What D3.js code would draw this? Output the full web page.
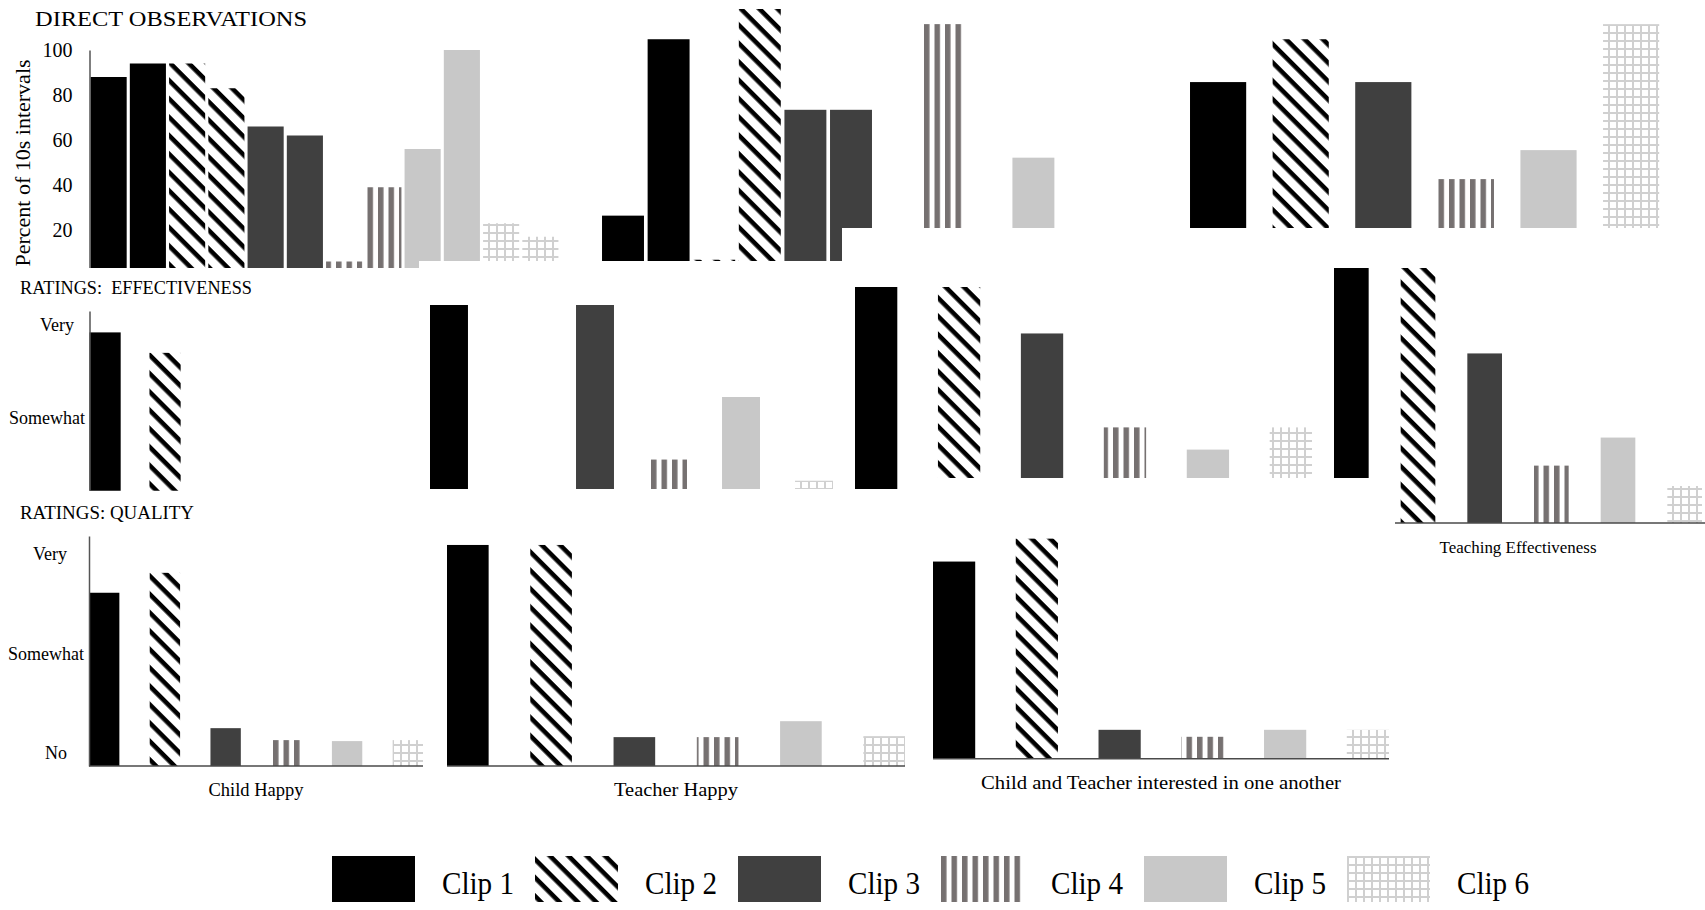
<!DOCTYPE html>
<html>
<head>
<meta charset="utf-8">
<script src="https://cdn.jsdelivr.net/npm/d3@7"></script>
<style>
  body { margin: 0; background: #fff; }
  svg text { font-family: "Liberation Serif", "Times New Roman", serif; fill: #000; }
</style>
</head>
<body>
<svg id="chart" width="1705" height="910"></svg>
<script>
// ---- data ----
const clips = ["Clip 1", "Clip 2", "Clip 3", "Clip 4", "Clip 5", "Clip 6"];
// direct observation panels show two sessions per clip
const obsSlots = ["Clip 1","Clip 1","Clip 2","Clip 2","Clip 3","Clip 3","Clip 4","Clip 4","Clip 5","Clip 5","Clip 6","Clip 6"];
const obsPanel1 = [88, 94, 94, 83, 66, 62, 6, 39, 56, 100, 23, 17];
const obsPanel2 = [18, 88, 0.5, 100, 60, 60, 0, 94, 0, 41, 0, 0];
const obsPanel3 = [71, 88, 71, 32.5, 44, 94];
const obsTicks = [20, 40, 60, 80, 100];

// ratings: 0 = No, 1 = Somewhat, 2 = Very
const ratingLabels = ["No", "Somewhat", "Very"];
const effChildHappy   = [1.92, 1.70, null, null, null, null];
const effTeacherHappy = [2.0, null, 2.0, 0.32, 1.0, 0.09];
const effInterested   = [2.0, 2.0, 1.54, 0.61, 0.39, 0.61];
const effTeaching     = [2.0, 2.0, 1.33, 0.45, 0.67, 0.29];
const qualChildHappy   = [1.61, 1.81, 0.25, 0.13, 0.12, 0.13];
const qualTeacherHappy = [2.09, 2.09, 0.16, 0.16, 0.32, 0.17];
const qualInterested   = [1.85, 2.08, 0.16, 0.09, 0.16, 0.16];

const panelNames = ["Child Happy", "Teacher Happy", "Child and Teacher interested in one another", "Teaching Effectiveness"];

// ---- setup ----
const svg = d3.select("#chart");
const defs = svg.append("defs");

const hatch = defs.append("pattern").attr("id", "hatch").attr("patternUnits", "userSpaceOnUse")
  .attr("width", 13).attr("height", 13).attr("patternTransform", "rotate(45)");
hatch.append("rect").attr("width", 13).attr("height", 13).attr("fill", "#fff");
hatch.append("rect").attr("width", 13).attr("height", 4.6).attr("fill", "#000");

const vstripe = defs.append("pattern").attr("id", "vstripe").attr("patternUnits", "userSpaceOnUse")
  .attr("width", 10.5).attr("height", 10);
vstripe.append("rect").attr("width", 10.5).attr("height", 10).attr("fill", "#fff");
vstripe.append("rect").attr("width", 5.5).attr("height", 10).attr("fill", "#767171");

const grid = defs.append("pattern").attr("id", "grid").attr("patternUnits", "userSpaceOnUse")
  .attr("width", 8).attr("height", 8);
grid.append("rect").attr("width", 8).attr("height", 8).attr("fill", "#fff");
grid.append("path").attr("d", "M0,1H8M1,0V8").attr("stroke", "#d0d0d0").attr("stroke-width", 2);

const clipFill = {
  "Clip 1": "#000000",
  "Clip 2": "url(#hatch)",
  "Clip 3": "#404040",
  "Clip 4": "url(#vstripe)",
  "Clip 5": "#c8c8c8",
  "Clip 6": "url(#grid)"
};

let clipCount = 0;
function clipRect(x, y, w, h) {
  const id = "cp" + (clipCount++);
  defs.append("clipPath").attr("id", id).append("rect")
    .attr("x", x).attr("y", y).attr("width", w).attr("height", h);
  return `url(#${id})`;
}

// one small bar chart, placed somewhere on the collage
function drawPanel(p) {
  const g = svg.append("g");
  if (p.clip) g.attr("clip-path", clipRect(...p.clip));
  const x = d3.scaleBand().domain(d3.range(p.values.length)).range(p.x)
    .paddingInner(p.pi).paddingOuter(p.po || 0);
  const y = d3.scaleLinear().domain(p.dom).range(p.y);
  const base = y(p.dom[0]);

  const rows = p.values.map((v, i) => ({ v, i, clip: p.slots[i] }))
    .filter(d => d.v != null && d.v > 0);
  g.selectAll("rect.bar").data(rows).join("rect")
    .attr("class", "bar")
    .attr("x", d => x(d.i))
    .attr("width", x.bandwidth())
    .attr("y", d => y(d.v))
    .attr("height", d => base - y(d.v))
    .attr("fill", d => clipFill[d.clip]);

  if (p.axis) {
    const a = p.axis;
    const ax = g.append("g").attr("transform", `translate(${a.x},0)`)
      .call(d3.axisLeft(y).tickValues(a.ticks).tickFormat(a.fmt).tickSize(0).tickPadding(a.pad));
    ax.attr("font-family", null);
    ax.select(".domain").attr("stroke", "#555").attr("stroke-width", 1.5);
    ax.selectAll(".tick text").attr("font-size", a.size).attr("fill", "#000")
      .attr("dx", d => (a.shift && d !== 1) ? a.shift : 0);
  }
  if (p.baseline) {
    g.append("line").attr("x1", p.x[0]).attr("x2", p.baseline.to || p.x[1])
      .attr("y1", base).attr("y2", base)
      .attr("stroke", "#4a4a4a").attr("stroke-width", 1.5);
  }
  if (p.name) {
    g.append("text").attr("x", (p.x[0] + p.x[1]) / 2).attr("y", base + 30)
      .attr("text-anchor", "middle").attr("font-size", p.nameSize || 18)
      .attr("textLength", p.nameWidth).attr("lengthAdjust", "spacingAndGlyphs")
      .text(p.name);
  }
}

function cover(x, y, w, h) {
  svg.append("rect").attr("x", x).attr("y", y).attr("width", w).attr("height", h).attr("fill", "#fff");
}

// ---- row 1: direct observations ----
svg.append("text").attr("x", 35).attr("y", 26).attr("font-size", 22)
  .attr("textLength", 272).attr("lengthAdjust", "spacingAndGlyphs").text("DIRECT OBSERVATIONS");
svg.append("text").attr("transform", "translate(30,163) rotate(-90)").attr("text-anchor", "middle")
  .attr("font-size", 22).text("Percent of 10s intervals");

drawPanel({ values: obsPanel1, slots: obsSlots, x: [89, 560], pi: 0.08, po: 0.04,
  dom: [0, 100], y: [275, 50], clip: [0, 0, 600, 268],
  axis: { x: 89.5, ticks: obsTicks, fmt: d => d, size: 20, pad: 17 } });
cover(419, 261, 143, 8);
drawPanel({ values: obsPanel2, slots: obsSlots, x: [600.2, 1147.4], pi: 0.08, po: 0.04,
  dom: [0, 100], y: [261, 9] });
drawPanel({ values: obsPanel3, slots: clips, x: [1176.8, 1672.4], pi: 0.32, po: 0.16,
  dom: [0, 100], y: [261, 9] });
cover(842, 228, 863, 40);

// ---- row 2: ratings, effectiveness ----
svg.append("text").attr("x", 20).attr("y", 294).attr("font-size", 18)
  .attr("textLength", 232).attr("lengthAdjust", "spacingAndGlyphs").text("RATINGS:\u00A0 EFFECTIVENESS");

drawPanel({ values: effChildHappy, slots: clips, x: [89.5, 420.5], pi: 0.48,
  dom: [0, 2.15], y: [511, 311], clip: [0, 300, 425, 190.7],
  axis: { x: 89.5, ticks: [1, 2], fmt: d => ratingLabels[d], size: 18, pad: 4.5, shift: -11 } });
drawPanel({ values: effTeacherHappy, slots: clips, x: [430, 833], pi: 0.48, dom: [0, 2], y: [489, 305] });
drawPanel({ values: effInterested, slots: clips, x: [855, 1312], pi: 0.49, dom: [0, 2], y: [489, 287] });
drawPanel({ values: effTeaching, slots: clips, x: [1334, 1702], pi: 0.48, dom: [0, 2], y: [523, 268],
  baseline: { to: 1705 }, name: panelNames[3], nameSize: 17, nameWidth: 157 });
cover(918, 478, 477, 322);

// ---- row 3: ratings, quality ----
svg.append("text").attr("x", 20).attr("y", 519).attr("font-size", 18)
  .attr("textLength", 174).attr("lengthAdjust", "spacingAndGlyphs").text("RATINGS: QUALITY");

drawPanel({ values: qualChildHappy, slots: clips, x: [89, 423], pi: 0.5,
  dom: [-0.13, 2.18], y: [766, 536], baseline: {}, name: panelNames[0], nameWidth: 95,
  axis: { x: 89, ticks: [0, 1, 2], fmt: d => ratingLabels[d], size: 18, pad: 5, shift: -17 } });
drawPanel({ values: qualTeacherHappy, slots: clips, x: [447, 905], pi: 0.5,
  dom: [-0.13, 2.18], y: [766, 536], baseline: {}, name: panelNames[1], nameWidth: 124 });
drawPanel({ values: qualInterested, slots: clips, x: [933, 1389], pi: 0.49,
  dom: [-0.13, 2.18], y: [758.7, 528.7], baseline: {}, name: panelNames[2], nameWidth: 360 });

// ---- legend ----
const legend = svg.append("g").attr("transform", "translate(332,856)");
const item = legend.selectAll("g").data(clips).join("g")
  .attr("transform", (d, i) => `translate(${i * 203},0)`);
item.append("rect").attr("width", 83).attr("height", 46).attr("fill", d => clipFill[d]);
item.append("text").attr("x", 110).attr("y", 38).attr("font-size", 31)
  .attr("textLength", 72).attr("lengthAdjust", "spacingAndGlyphs").text(d => d);
</script>
</body>
</html>
